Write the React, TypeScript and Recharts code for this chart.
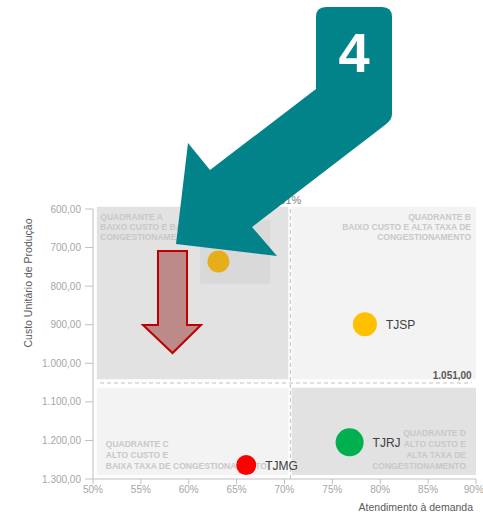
import React from "react";
import {
  ScatterChart,
  Scatter,
  XAxis,
  YAxis,
  ReferenceArea,
  ReferenceLine,
  Label,
} from "recharts";

// tribunais e valores
const tribunais = ["", "TJSP", "TJRJ", "TJMG"];
const atendimento = [0.631, 0.784, 0.768, 0.66];
const custoUnitario = [736, 899, 1205, 1264];
const cores = ["#E6AF1A", "#FFC000", "#00B050", "#FF0000"];
const raios = [11, 12, 14, 10];

const xTicks = [0.5, 0.55, 0.6, 0.65, 0.7, 0.75, 0.8, 0.85, 0.9];
const yTicks = [600, 700, 800, 900, 1000, 1100, 1200, 1300];

// linhas de corte
const corteAtendimento = 0.7061;
const corteCusto = 1051;

const textoA = ["QUADRANTE A", "BAIXO CUSTO E BAIXA TAXA DE", "CONGESTIONAMENTO"];
const textoB = ["QUADRANTE B", "BAIXO CUSTO E ALTA TAXA DE", "CONGESTIONAMENTO"];
const textoC = ["QUADRANTE C", "ALTO CUSTO E", "BAIXA TAXA DE CONGESTIONAMENTO"];
const textoD = ["QUADRANTE D", "ALTO CUSTO E", "ALTA TAXA DE", "CONGESTIONAMENTO"];

const data = tribunais.map((nome, i) => ({
  nome,
  atendimento: atendimento[i],
  custo: custoUnitario[i],
  cor: cores[i],
  raio: raios[i],
}));

const fmtCusto = (v: number) =>
  v.toLocaleString("pt-BR", { minimumFractionDigits: 2, maximumFractionDigits: 2 });
const fmtPct = (v: number) => `${Math.round(v * 100)}%`;

const FONT = "'Liberation Sans', Arial, sans-serif";

const quadLabel =
  (lines: string[], side: "left" | "right", vert: "top" | "bottom", dx: number, dy: number, lh: number) =>
  (props: any) => {
    const vb = props.viewBox;
    if (!vb) return null;
    const x = side === "left" ? vb.x + dx : vb.x + vb.width - dx;
    const first =
      vert === "top" ? vb.y + dy : vb.y + vb.height - dy - (lines.length - 1) * lh;
    return (
      <text
        textAnchor={side === "left" ? "start" : "end"}
        fill="#c8c8c8"
        fontSize={8.5}
        fontWeight="bold"
        fontFamily={FONT}
      >
        {lines.map((l, i) => (
          <tspan key={i} x={x} y={first + i * lh + 3}>
            {l}
          </tspan>
        ))}
      </text>
    );
  };

const Bolha = (props: any) => {
  const { cx, cy, payload } = props;
  if (cx == null || cy == null) return null;
  return (
    <g>
      <circle cx={cx} cy={cy} r={payload.raio} fill={payload.cor} />
      {payload.nome && (
        <text
          x={cx + payload.raio + 9}
          y={cy + 4.5}
          fill="#404040"
          fontSize={12}
          fontFamily={FONT}
        >
          {payload.nome}
        </text>
      )}
    </g>
  );
};

const App = () => {
  return (
    <div
      style={{
        position: "absolute",
        left: 0,
        top: 0,
        width: 483,
        height: 514,
        fontFamily: FONT,
        background: "#fff",
      }}
    >
      <ScatterChart
        width={483}
        height={514}
        margin={{ top: 209, right: 7, bottom: 0, left: 1 }}
      >
        <ReferenceArea
          x1={0.504}
          x2={0.704}
          y1={594}
          y2={1041.5}
          fill="#e2e2e2"
          fillOpacity={1}
          stroke="none"
          ifOverflow="visible"
          label={quadLabel(textoA, "left", "top", 3.5, 10, 10.4)}
        />
        <ReferenceArea
          x1={0.612}
          x2={0.685}
          y1={628}
          y2={795}
          fill="#d9d9d9"
          fillOpacity={1}
          stroke="none"
        />
        <ReferenceArea
          x1={0.7075}
          x2={0.9}
          y1={594}
          y2={1041.5}
          fill="#f3f3f3"
          fillOpacity={1}
          stroke="none"
          ifOverflow="visible"
          label={quadLabel(textoB, "right", "top", 5, 10, 10.3)}
        />
        <ReferenceArea
          x1={0.504}
          x2={0.704}
          y1={1063.6}
          y2={1289.7}
          fill="#f3f3f3"
          fillOpacity={1}
          stroke="none"
          label={quadLabel(textoC, "left", "bottom", 9, 9.5, 11)}
        />
        <ReferenceArea
          x1={0.7075}
          x2={0.9}
          y1={1063.6}
          y2={1289.7}
          fill="#e2e2e2"
          fillOpacity={1}
          stroke="none"
          label={quadLabel(textoD, "right", "bottom", 10, 9.5, 11)}
        />
        <ReferenceLine
          x={corteAtendimento}
          stroke="#bfbfbf"
          strokeDasharray="4 3"
          label={(p: any) =>
            p.viewBox ? (
              <text
                x={p.viewBox.x + 11}
                y={p.viewBox.y - 5}
                textAnchor="end"
                fill="#7f7f7f"
                fontSize={11}
                fontFamily={FONT}
              >
                {`${(corteAtendimento * 100).toFixed(2).replace(".", ",")}%`}
              </text>
            ) : null
          }
        />
        <ReferenceLine
          segment={[
            { x: 0.5073, y: corteCusto },
            { x: 0.8955, y: corteCusto },
          ]}
          stroke="#bfbfbf"
          strokeDasharray="4 3"
          label={(p: any) =>
            p.viewBox ? (
              <text
                x={p.viewBox.x + p.viewBox.width}
                y={p.viewBox.y - 4}
                textAnchor="end"
                fill="#595959"
                fontSize={10}
                fontWeight="bold"
                fontFamily={FONT}
              >
                {fmtCusto(corteCusto)}
              </text>
            ) : null
          }
        />
        <XAxis
          type="number"
          dataKey="atendimento"
          domain={[0.5, 0.9]}
          ticks={xTicks}
          tickFormatter={fmtPct}
          height={35}
          tickSize={5}
          axisLine={{ stroke: "#bfbfbf" }}
          tickLine={{ stroke: "#bfbfbf" }}
          tick={{ fill: "#a6a6a6", fontSize: 10 }}
        >
          <Label
            value="Atendimento à demanda"
            position="insideBottomRight"
            offset={3}
            fill="#595959"
            fontSize={10.5}
          />
        </XAxis>
        <YAxis
          type="number"
          dataKey="custo"
          domain={[600, 1300]}
          ticks={yTicks}
          reversed
          tickFormatter={fmtCusto}
          width={92}
          tickSize={8}
          tickMargin={4}
          axisLine={{ stroke: "#bfbfbf" }}
          tickLine={{ stroke: "#bfbfbf" }}
          tick={{ fill: "#a6a6a6", fontSize: 10 }}
        >
          <Label
            content={(p: any) =>
              p.viewBox ? (
                <text
                  x={p.viewBox.x + 27}
                  y={p.viewBox.y + 74}
                  transform={`rotate(-90, ${p.viewBox.x + 27}, ${p.viewBox.y + 74})`}
                  textAnchor="middle"
                  dominantBaseline="central"
                  fill="#595959"
                  fontSize={10.5}
                  fontFamily={FONT}
                >
                  Custo Unitário de Produção
                </text>
              ) : null
            }
          />
        </YAxis>
        <Scatter data={data} isAnimationActive={false} shape={(p: any) => <Bolha {...p} />} />
      </ScatterChart>
      <svg
        width={483}
        height={514}
        style={{ position: "absolute", left: 0, top: 0, pointerEvents: "none" }}
      >
        {/* seta vermelha */}
        <path
          d="M158 251 L187 251 L187 325 L201 325 L172.5 353 L143 325 L158 325 Z"
          fill="#bd8a8a"
          stroke="#c00000"
          strokeWidth={2}
        />
        {/* seta numerada */}
        <path
          d="M326 7 L382 7 Q392 7 392 17 L392 114 Q392 120 385 125 L252 227 L277 256 L176 244 L188 143 L210 170 L316 89 L316 17 Q316 7 326 7 Z"
          fill="#02838a"
        />
        <text
          x={354}
          y={72}
          textAnchor="middle"
          fill="#ffffff"
          fontSize={56}
          fontWeight="bold"
          fontFamily={FONT}
        >
          4
        </text>
      </svg>
    </div>
  );
};

export default App;
